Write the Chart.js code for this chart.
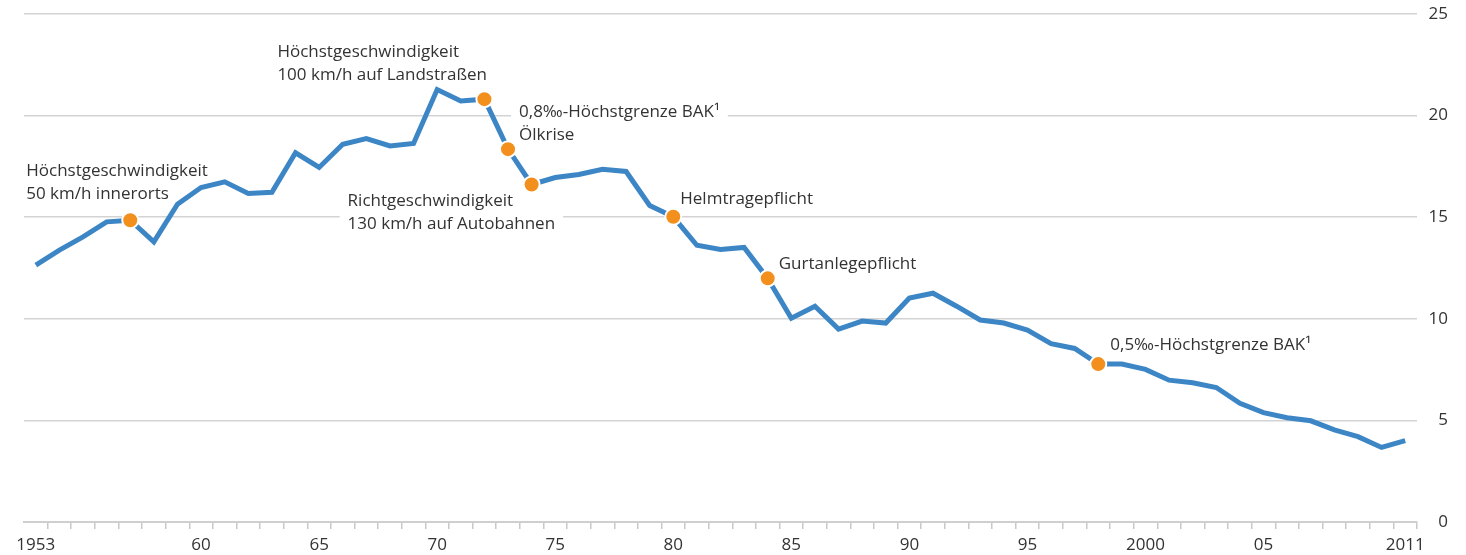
<!DOCTYPE html>
<html>
<head>
<meta charset="utf-8">
<script src="https://cdn.jsdelivr.net/npm/chart.js@4"></script>
<style>
  body { margin: 0; background: #fff; }
  canvas { display: block; }
</style>
</head>
<body>
<canvas id="chart" width="1466" height="555"></canvas>
<script>
// Years on the x axis
const years = [
    1953, 1954, 1955, 1956, 1957, 1958, 1959, 1960, 1961, 1962,
    1963, 1964, 1965, 1966, 1967, 1968, 1969, 1970, 1971, 1972,
    1973, 1974, 1975, 1976, 1977, 1978, 1979, 1980, 1981, 1982,
    1983, 1984, 1985, 1986, 1987, 1988, 1989, 1990, 1991, 1992,
    1993, 1994, 1995, 1996, 1997, 1998, 1999, 2000, 2001, 2002,
    2003, 2004, 2005, 2006, 2007, 2008, 2009, 2010, 2011
];

// Values
const values = [
    12.64, 13.38, 14.03, 14.77, 14.85, 13.79, 15.64, 16.46, 16.74, 16.17,
    16.23, 18.17, 17.45, 18.59, 18.87, 18.51, 18.63, 21.28, 20.72, 20.81,
    18.35, 16.61, 16.95, 17.10, 17.36, 17.25, 15.58, 15.02, 13.62, 13.41,
    13.51, 11.99, 10.03, 10.62, 9.49, 9.89, 9.79, 11.02, 11.26, 10.62,
    9.94, 9.79, 9.44, 8.78, 8.54, 7.77, 7.77, 7.51, 6.98, 6.85,
    6.62, 5.84, 5.38, 5.13, 4.98, 4.53, 4.20, 3.67, 4.00
];

// Which years get a label on the x axis, and what it reads
const labelYears = [1953, 1960, 1965, 1970, 1975, 1980, 1985, 1990, 1995, 2000, 2005, 2011];
const labelTexts = ['1953', '60', '65', '70', '75', '80', '85', '90', '95', '2000', '05', '2011'];

// y axis ticks
const yTicks = [0, 5, 10, 15, 20, 25];

// Marked events
const markerYears = [1957, 1972, 1973, 1974, 1980, 1984, 1998];
const noteYears = [1957, 1972, 1973, 1974, 1980, 1984, 1998];
const noteTexts = [
    ['Höchstgeschwindigkeit', '50 km/h innerorts'],
    ['Höchstgeschwindigkeit', '100 km/h auf Landstraßen'],
    ['0,8‰-Höchstgrenze BAK¹', 'Ölkrise'],
    ['Richtgeschwindigkeit', '130 km/h auf Autobahnen'],
    ['Helmtragepflicht'],
    ['Gurtanlegepflicht'],
    ['0,5‰-Höchstgrenze BAK¹']
];
// offset of each note (left edge, middle of first line) from its point
const noteOffsets = [[-104, -49], [-207, -47], [11, -37], [-184, 17], [7, -18], [11, -14], [12, -19]];

const FONT = '"Open Sans", "Noto Sans", sans-serif';
const TEXT_COLOR = '#333333';
const GRID_COLOR = '#d3d3d3';
const LINE_COLOR = '#3d86c6';
const MARK_COLOR = '#f28f1d';

// Draws the event notes on white boxes over the grid
const notesPlugin = {
    id: 'notes',
    beforeDatasetsDraw(chart) {
        const ctx = chart.ctx;
        const xs = chart.scales.x;
        const ys = chart.scales.y;
        const lineH = 23;
        ctx.save();
        ctx.font = '17px ' + FONT;
        ctx.textBaseline = 'middle';
        ctx.textAlign = 'left';
        noteYears.forEach((yr, i) => {
            const idx = years.indexOf(yr);
            const px = xs.getPixelForValue(idx);
            const py = ys.getPixelForValue(values[idx]);
            const x = px + noteOffsets[i][0];
            const y = py + noteOffsets[i][1];
            const lines = noteTexts[i];
            const w = Math.max(...lines.map(t => ctx.measureText(t).width));
            ctx.fillStyle = '#ffffff';
            ctx.fillRect(x - 8, y - lineH / 2, w + 16, lineH * lines.length);
            ctx.fillStyle = TEXT_COLOR;
            lines.forEach((t, j) => ctx.fillText(t, x, y + j * lineH));
        });
        ctx.restore();
    }
};

const chart = new Chart(document.getElementById('chart'), {
    type: 'line',
    data: {
        labels: years,
        datasets: [{
            data: values,
            borderColor: LINE_COLOR,
            borderWidth: 5,
            tension: 0,
            fill: false,
            pointRadius: ctx => markerYears.includes(years[ctx.dataIndex]) ? 8 : 0,
            pointBackgroundColor: MARK_COLOR,
            pointBorderColor: '#ffffff',
            pointBorderWidth: 2
        }]
    },
    options: {
        responsive: false,
        animation: false,
        layout: {
            padding: { left: 24, top: 14, right: 18, bottom: 0 }
        },
        plugins: {
            legend: { display: false },
            tooltip: { enabled: false }
        },
        scales: {
            x: {
                type: 'category',
                offset: true,
                afterFit: scale => {
                    scale.height = 33;
                    scale.paddingLeft = 0;
                    scale.paddingRight = 0;
                },
                grid: {
                    offset: true,
                    drawOnChartArea: false,
                    drawTicks: true,
                    tickLength: 7,
                    lineWidth: 1.5,
                    color: ctx => (ctx.index === 0 || ctx.index === years.length) ? 'rgba(0,0,0,0)' : '#c8c8c8'
                },
                border: { color: '#cfcfcf', width: 2 },
                ticks: {
                    autoSkip: false,
                    maxRotation: 0,
                    padding: 6,
                    color: TEXT_COLOR,
                    font: { family: FONT, size: 17 },
                    callback: function(value, index) {
                        const k = labelYears.indexOf(years[index]);
                        return k >= 0 ? labelTexts[k] : '';
                    }
                }
            },
            y: {
                position: 'right',
                min: 0,
                max: 25,
                afterFit: scale => {
                    scale.width = 31;
                    scale.paddingTop = 0;
                    scale.paddingBottom = 0;
                },
                afterBuildTicks: scale => { scale.ticks = yTicks.map(v => ({ value: v })); },
                grid: {
                    color: GRID_COLOR,
                    lineWidth: 1.5,
                    drawTicks: false
                },
                border: { display: false },
                ticks: {
                    padding: 12,
                    crossAlign: 'far',
                    color: TEXT_COLOR,
                    font: { family: FONT, size: 17 }
                }
            }
        }
    },
    plugins: [notesPlugin]
});
</script>
</body>
</html>
